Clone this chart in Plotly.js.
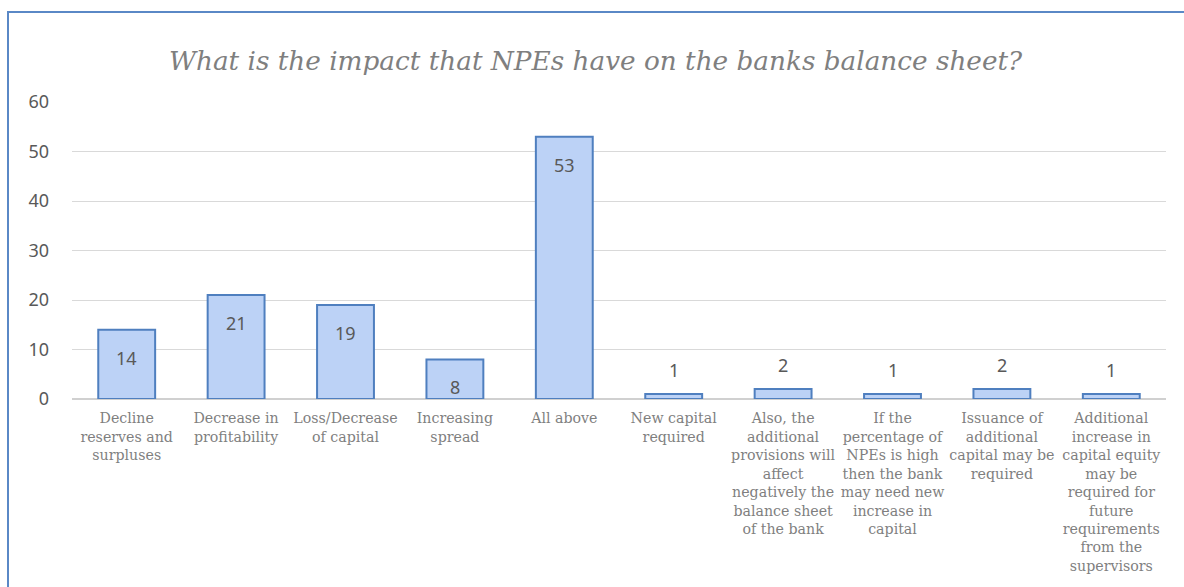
<!DOCTYPE html>
<html>
<head>
<meta charset="utf-8">
<script src="https://cdn.plot.ly/plotly-3.0.1.min.js"></script>
<style>
  html, body { margin: 0; padding: 0; background: #ffffff; }
  #chart { width: 1184px; height: 587px; }
  #frame { position: absolute; left: 7px; top: 11px; width: 1177px; height: 576px;
           border-left: 2px solid #5a88c6; border-top: 2px solid #5a88c6; pointer-events: none; }
</style>
</head>
<body>
<div id="chart"></div>
<div id="frame"></div>
<script>
const chartTitle = "What is the impact that NPEs have on the banks balance sheet?";
const categories = [
  "Decline<br>reserves and<br>surpluses",
  "Decrease in<br>profitability",
  "Loss/Decrease<br>of capital",
  "Increasing<br>spread",
  "All above",
  "New capital<br>required",
  "Also, the<br>additional<br>provisions will<br>affect<br>negatively the<br>balance sheet<br>of the bank",
  "If the<br>percentage of<br>NPEs is high<br>then the bank<br>may need new<br>increase in<br>capital",
  "Issuance of<br>additional<br>capital may be<br>required",
  "Additional<br>increase in<br>capital equity<br>may be<br>required for<br>future<br>requirements<br>from the<br>supervisors"
];
const values = [14, 21, 19, 8, 53, 1, 2, 1, 2, 1];
const yTicks = [0, 10, 20, 30, 40, 50, 60];

const trace = {
  type: "bar",
  x: categories,
  y: values,
  marker: { color: "#bcd2f6", line: { color: "#4f7fbf", width: 2 } },
  hoverinfo: "none"
};

const annotations = values.map((v, i) => {
  const big = v >= 5;
  return {
    x: categories[i], y: v, xref: "x", yref: "y",
    text: String(v), showarrow: false,
    yanchor: big ? "top" : "bottom",
    yshift: big ? -14 : 10,
    font: { family: "Noto Sans, Liberation Sans, sans-serif", size: 18, color: "#595959" }
  };
});

const layout = {
  width: 1184, height: 587,
  margin: { l: 72, r: 18, t: 102, b: 188 },
  paper_bgcolor: "#ffffff", plot_bgcolor: "#ffffff",
  title: {
    text: chartTitle,
    x: 0.503, xanchor: "center", y: 0.897, yanchor: "middle",
    font: { family: "DejaVu Serif, serif", size: 26.3, color: "#7f7f7f", style: "italic" }
  },
  showlegend: false,
  bargap: 0.48,
  xaxis: {
    type: "category",
    showgrid: false, zeroline: false,
    showline: false, ticks: "",
    tickangle: 0,
    ticklabelstandoff: 9,
    tickfont: { family: "DejaVu Serif, serif", size: 14.2, color: "#7f7f7f" },
    automargin: false
  },
  yaxis: {
    range: [0, 60],
    tickvals: yTicks,
    ticktext: yTicks.map(String),
    showgrid: true, gridcolor: "#d9d9d9", gridwidth: 1,
    zeroline: true, zerolinecolor: "#d0d0d0", zerolinewidth: 2,
    showline: false, ticks: "",
    ticklabelstandoff: 22,
    tickfont: { family: "Noto Sans, Liberation Sans, sans-serif", size: 18, color: "#595959" },
    automargin: false
  },
  annotations: annotations
};

Plotly.newPlot("chart", [trace], layout, { displayModeBar: false, staticPlot: true });
</script>
</body>
</html>
